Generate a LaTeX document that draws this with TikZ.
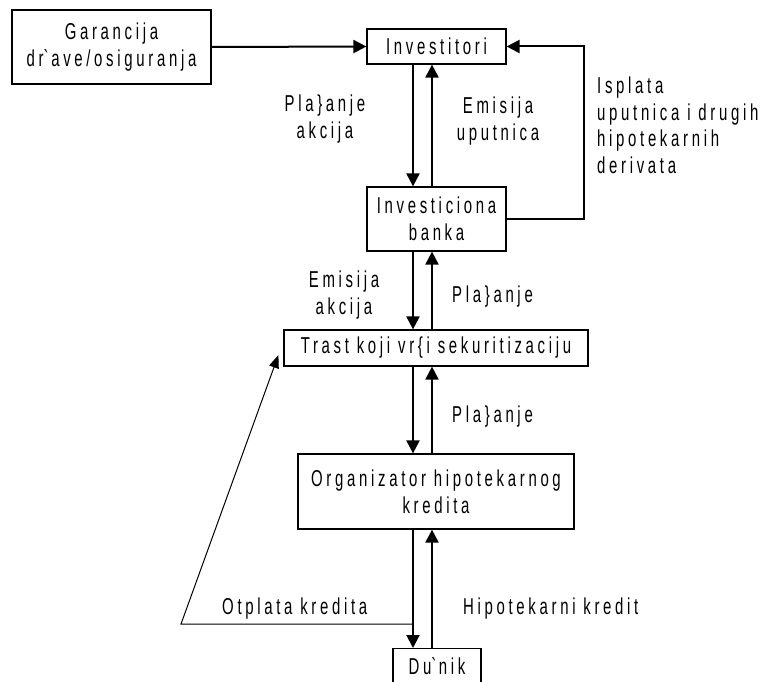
\documentclass[tikz,border=0pt]{standalone}
\usepackage{fontspec}
\setmainfont{Liberation Sans}[FakeStretch=0.65,LetterSpace=16]
\usetikzlibrary{arrows.meta}
\tikzstyle{box} = [draw, line width=1.2pt, inner sep=0pt, align=center, font=\fontsize{23}{27}\selectfont]
\tikzstyle{lbl} = [inner sep=0pt, font=\fontsize{23}{27}\selectfont]
\tikzstyle{flow} = [line width=2pt, -{Triangle[length=13pt,width=13pt]}]
\tikzstyle{back} = [line width=1pt, -{Triangle[length=13pt,width=10pt]}]

\begin{document}
\begin{tikzpicture}[x=1pt,y=-1pt]
	\useasboundingbox (0,0) rectangle (766,682);
	% boxes
	\node[box, minimum width=199pt, minimum height=74pt] (gar) at (111.5,47) {Garancija\\dr\textasciigrave ave/osiguranja};
	\node[box, minimum width=139pt, minimum height=35pt] (inv) at (436.5,46.5) {Investitori};
	\node[box, minimum width=139pt, minimum height=64pt] (bank) at (436.5,219) {Investiciona\\banka};
	\node[box, minimum width=304pt, minimum height=36pt] (trast) at (436,348) {Trast koji vr\{i sekuritizaciju};
	\node[box, minimum width=276pt, minimum height=75pt] (org) at (436,491.5) {Organizator hipotekarnog\\kredita};
	\node[box, anchor=north, minimum width=88pt, inner ysep=10pt, text height=16pt, text depth=36pt] (duz) at (437,648) {Du\textasciigrave nik};

	% flows
	\coordinate (dn) at (413,0);
	\coordinate (up) at (432,0);
	\draw[flow] (gar.east) -- (inv.west);
	\draw[flow] (inv.south -| dn) -- (bank.north -| dn);
	\draw[flow] (bank.north -| up) -- (inv.south -| up);
	\draw[flow] (bank.east) -- ++(77,0) |- (inv.east);
	\draw[flow] (bank.south -| dn) -- (trast.north -| dn);
	\draw[flow] (trast.north -| up) -- (bank.south -| up);
	\draw[flow] (trast.south -| dn) -- (org.north -| dn);
	\draw[flow] (org.north -| up) -- (trast.south -| up);
	\draw[flow] (org.south -| dn) -- (duz.north -| dn);
	\draw[flow] (duz.north -| up) -- (org.south -| up);
	\coordinate (ret) at (181,624);
	\draw[back] (dn |- ret) -- (ret) -- ([shift={(-5,7)}]trast.west);

	% labels (base = last line)
	\node[lbl, align=center, anchor=base] (plakc) at (325,139) {Pla\}anje\\akcija};
	\node[lbl, align=center, anchor=base] (emupu) at (498,141) {Emisija\\uputnica};
	\node[lbl, align=left, anchor=base west] (ispl) at (597,174) {Isplata\\uputnica i drugih\\hipotekarnih\\derivata};
	\node[lbl, align=center, anchor=base] (emakc) at (344,314) {Emisija\\akcija};
	\node[lbl, anchor=base west] (pla1) at (452,302) {Pla\}anje};
	\node[lbl, anchor=base west] (pla2) at (452,422) {Pla\}anje};
	\node[lbl, anchor=base west] (otpl) at (222,614) {Otplata kredita};
	\node[lbl, anchor=base west] (hipo) at (463,614) {Hipotekarni kredit};
\end{tikzpicture}
\end{document}
